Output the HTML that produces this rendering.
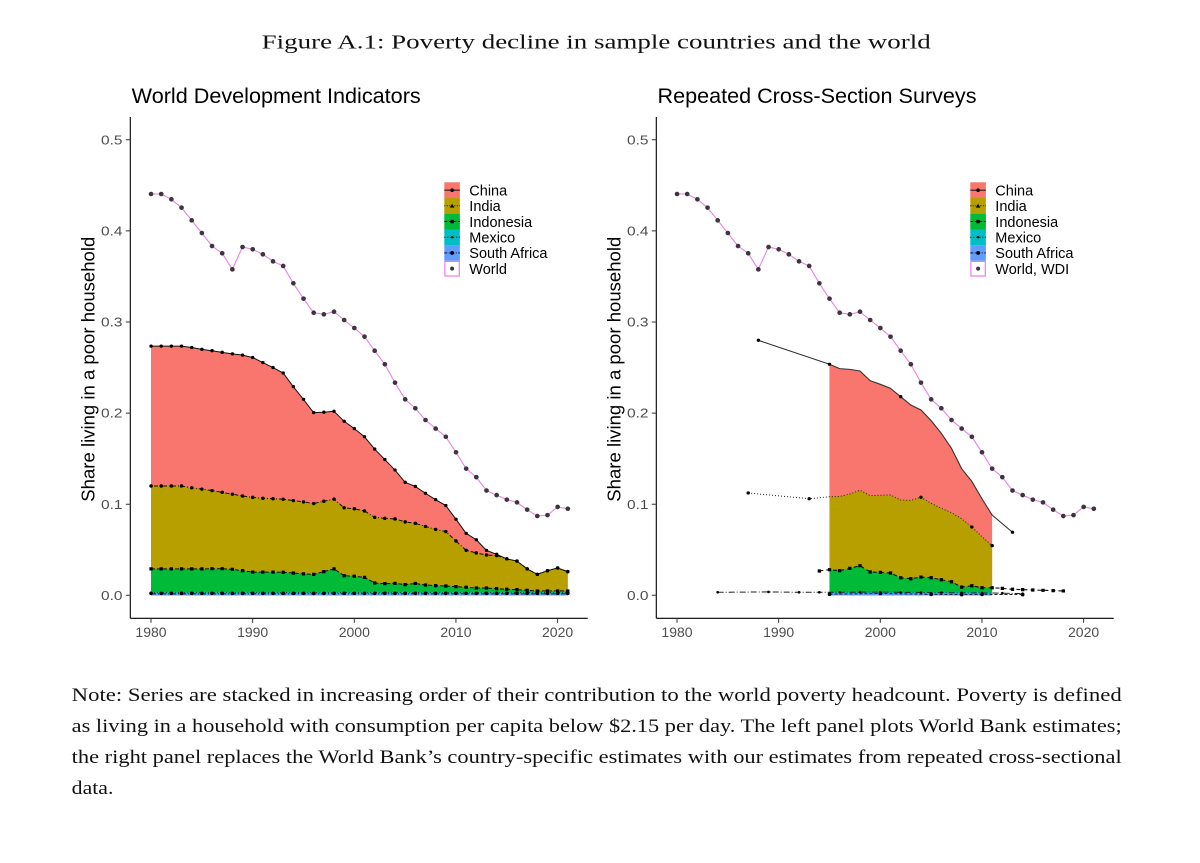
<!DOCTYPE html>
<html>
<head>
<meta charset="utf-8">
<style>
html,body{margin:0;padding:0;background:#fff;}
svg{display:block;}
.ax{stroke:#000;stroke-width:1.1;fill:none;}
.tk{stroke:#333;stroke-width:1;fill:none;}
.tl{font-family:"Liberation Sans",Arial,sans-serif;font-size:13px;fill:#4d4d4d;}
.xl{font-family:"Liberation Sans",Arial,sans-serif;font-size:14px;fill:#4d4d4d;}
.tt{font-family:"Liberation Sans",Arial,sans-serif;font-size:21px;fill:#000;}
.yl{font-family:"Liberation Sans",Arial,sans-serif;font-size:18.5px;fill:#000;}
.lg{font-family:"Liberation Sans",Arial,sans-serif;font-size:14.5px;fill:#000;}
.sr{font-family:"Liberation Serif","Times New Roman",serif;fill:#111;}
.ln{fill:none;vector-effect:non-scaling-stroke;}
.mk{fill:none;vector-effect:non-scaling-stroke;stroke-linecap:round;}
.mks{fill:none;vector-effect:non-scaling-stroke;stroke-linecap:square;}
</style>
</head>
<body>
<svg width="1200" height="863" viewBox="0 0 1200 863" xmlns="http://www.w3.org/2000/svg">
<rect width="1200" height="863" fill="#fff"/>

<!-- Caption -->
<text class="sr" x="261.7" y="48.3" font-size="20.5" textLength="669" lengthAdjust="spacingAndGlyphs">Figure A.1: Poverty decline in sample countries and the world</text>

<!-- ================= LEFT PANEL ================= -->
<text class="tt" x="131.7" y="103" textLength="289" lengthAdjust="spacingAndGlyphs">World Development Indicators</text>
<text class="yl" transform="translate(94.5,369.2) rotate(-90)" text-anchor="middle" textLength="265" lengthAdjust="spacingAndGlyphs">Share living in a poor household</text>

<g transform="translate(151,595.3) scale(10.165,-0.911)">
  <!-- areas -->
  <path fill="#F8766D" d="M0 0L0 273.5L1 273.5L2 273.5L3 273.5L4 272L5 270L6 268.5L7 266.7L8 265L9 263.6L10 261L11 255.5L12 250L13 244L14 229L15 215L16 200.5L17 201L18 202L19 191L20 183L21 174L22 160.5L23 149L24 137.5L25 124L26 119.5L27 112L28 105L29 98.5L30 83.5L31 68L32 61L33 49.3L34 45L35 40L36 37.6L37 29L38 23L39 27L40 30L41 26L41 0Z"/>
  <path fill="#B79F00" d="M0 0L0 120L1 120L2 120L3 120L4 118L5 116.5L6 115L7 113L8 111L9 109L10 107.5L11 106.5L12 106L13 105.5L14 104L15 102.5L16 100.7L17 103.3L18 105.5L19 96L20 95L21 92.6L22 85.6L23 84.5L24 83.8L25 80.6L26 79L27 75.6L28 72.3L29 70L30 59.6L31 49.4L32 46.5L33 44.3L34 43.6L35 40L36 37.6L37 29L38 23L39 27L40 30L41 26L41 0Z"/>
  <path fill="#00BA38" d="M0 0L0 29L1 29L2 29L3 29L4 29L5 29L6 29.2L7 29.2L8 28.5L9 27L10 25.5L11 25.5L12 25.5L13 25.3L14 24.5L15 23.5L16 23L17 26L18 29L19 21.5L20 21L21 19.7L22 13.5L23 12.8L24 13.1L25 11.7L26 13L27 11.3L28 10.6L29 10.2L30 9.5L31 8.8L32 8L33 8L34 7.3L35 6.6L36 6.2L37 5.5L38 4.8L39 4.8L40 4.8L41 4.8L41 0Z"/>
  <path fill="#00BFC4" d="M0 0L0 3.2L41 3.2L41 0Z"/>
  <path fill="#619CFF" d="M0 0L0 1.8L41 1.8L41 0Z"/>

  <!-- World -->
  <path class="ln" stroke="#EE80E6" stroke-width="1.1" d="M0 440.5L1 440.5L2 434.7L3 425.5L4 411.6L5 397.7L6 383.4L7 375.4L8 357.8L9 382.3L10 379.8L11 374.3L12 366.6L13 361.5L14 342.5L15 325.6L16 310.2L17 308.4L18 311.3L19 302.2L20 293.4L21 283.9L22 268.5L23 253.6L24 233.4L25 215.1L26 205.3L27 192.4L28 183L29 174L30 157L31 139L32 129.7L33 115L34 110L35 105L36 102L37 94L38 87L39 88L40 97L41 95"/>
  <path class="mk" stroke="#3d353d" stroke-width="4.6" d="M0 440.5h0.01M1 440.5h0.01M2 434.7h0.01M3 425.5h0.01M4 411.6h0.01M5 397.7h0.01M6 383.4h0.01M7 375.4h0.01M8 357.8h0.01M9 382.3h0.01M10 379.8h0.01M11 374.3h0.01M12 366.6h0.01M13 361.5h0.01M14 342.5h0.01M15 325.6h0.01M16 310.2h0.01M17 308.4h0.01M18 311.3h0.01M19 302.2h0.01M20 293.4h0.01M21 283.9h0.01M22 268.5h0.01M23 253.6h0.01M24 233.4h0.01M25 215.1h0.01M26 205.3h0.01M27 192.4h0.01M28 183h0.01M29 174h0.01M30 157h0.01M31 139h0.01M32 129.7h0.01M33 115h0.01M34 110h0.01M35 105h0.01M36 102h0.01M37 94h0.01M38 87h0.01M39 88h0.01M40 97h0.01M41 95h0.01"/>

  <!-- China line -->
  <path class="ln" stroke="#111" stroke-width="1" d="M0 273.5L1 273.5L2 273.5L3 273.5L4 272L5 270L6 268.5L7 266.7L8 265L9 263.6L10 261L11 255.5L12 250L13 244L14 229L15 215L16 200.5L17 201L18 202L19 191L20 183L21 174L22 160.5L23 149L24 137.5L25 124L26 119.5L27 112L28 105L29 98.5L30 83.5L31 68L32 61L33 49.3L34 45L35 40L36 37.6L37 29L38 23L39 27L40 30L41 26"/>
  <path class="mk" stroke="#000" stroke-width="3.3" d="M0 273.5h0.01M1 273.5h0.01M2 273.5h0.01M3 273.5h0.01M4 272h0.01M5 270h0.01M6 268.5h0.01M7 266.7h0.01M8 265h0.01M9 263.6h0.01M10 261h0.01M11 255.5h0.01M12 250h0.01M13 244h0.01M14 229h0.01M15 215h0.01M16 200.5h0.01M17 201h0.01M18 202h0.01M19 191h0.01M20 183h0.01M21 174h0.01M22 160.5h0.01M23 149h0.01M24 137.5h0.01M25 124h0.01M26 119.5h0.01M27 112h0.01M28 105h0.01M29 98.5h0.01M30 83.5h0.01M31 68h0.01M32 61h0.01M33 49.3h0.01M34 45h0.01M35 40h0.01M36 37.6h0.01M37 29h0.01M38 23h0.01M39 27h0.01M40 30h0.01M41 26h0.01"/>

  <!-- India line -->
  <path class="ln" stroke="#111" stroke-width="1" stroke-dasharray="1 2 4 2" d="M0 120L1 120L2 120L3 120L4 118L5 116.5L6 115L7 113L8 111L9 109L10 107.5L11 106.5L12 106L13 105.5L14 104L15 102.5L16 100.7L17 103.3L18 105.5L19 96L20 95L21 92.6L22 85.6L23 84.5L24 83.8L25 80.6L26 79L27 75.6L28 72.3L29 70L30 59.6L31 49.4L32 46.5L33 44.3L34 43.6L35 40L36 37.6L37 29L38 23L39 27L40 30L41 26"/>
  <path class="mk" stroke="#000" stroke-width="3.4" d="M0 120h0.01M1 120h0.01M2 120h0.01M3 120h0.01M4 118h0.01M5 116.5h0.01M6 115h0.01M7 113h0.01M8 111h0.01M9 109h0.01M10 107.5h0.01M11 106.5h0.01M12 106h0.01M13 105.5h0.01M14 104h0.01M15 102.5h0.01M16 100.7h0.01M17 103.3h0.01M18 105.5h0.01M19 96h0.01M20 95h0.01M21 92.6h0.01M22 85.6h0.01M23 84.5h0.01M24 83.8h0.01M25 80.6h0.01M26 79h0.01M27 75.6h0.01M28 72.3h0.01M29 70h0.01M30 59.6h0.01M31 49.4h0.01M32 46.5h0.01M33 44.3h0.01M34 43.6h0.01M35 40h0.01M36 37.6h0.01M37 29h0.01M38 23h0.01M39 27h0.01M40 30h0.01M41 26h0.01"/>

  <!-- Indonesia line -->
  <path class="ln" stroke="#111" stroke-width="1" stroke-dasharray="4 2" d="M0 29L1 29L2 29L3 29L4 29L5 29L6 29.2L7 29.2L8 28.5L9 27L10 25.5L11 25.5L12 25.5L13 25.3L14 24.5L15 23.5L16 23L17 26L18 29L19 21.5L20 21L21 19.7L22 13.5L23 12.8L24 13.1L25 11.7L26 13L27 11.3L28 10.6L29 10.2L30 9.5L31 8.8L32 8L33 8L34 7.3L35 6.6L36 6.2L37 5.5L38 4.8L39 4.8L40 4.8L41 4.8"/>
  <path class="mks" stroke="#000" stroke-width="3.2" d="M0 29h0.01M1 29h0.01M2 29h0.01M3 29h0.01M4 29h0.01M5 29h0.01M6 29.2h0.01M7 29.2h0.01M8 28.5h0.01M9 27h0.01M10 25.5h0.01M11 25.5h0.01M12 25.5h0.01M13 25.3h0.01M14 24.5h0.01M15 23.5h0.01M16 23h0.01M17 26h0.01M18 29h0.01M19 21.5h0.01M20 21h0.01M21 19.7h0.01M22 13.5h0.01M23 12.8h0.01M24 13.1h0.01M25 11.7h0.01M26 13h0.01M27 11.3h0.01M28 10.6h0.01M29 10.2h0.01M30 9.5h0.01M31 8.8h0.01M32 8h0.01M33 8h0.01M34 7.3h0.01M35 6.6h0.01M36 6.2h0.01M37 5.5h0.01M38 4.8h0.01M39 4.8h0.01M40 4.8h0.01M41 4.8h0.01"/>

  <!-- Mexico / South Africa lines -->
  <path class="ln" stroke="#222" stroke-width="1" stroke-dasharray="1 2" d="M0 2.8L41 2.8"/>
  <path class="ln" stroke="#222" stroke-width="1" stroke-dasharray="5 2 1 2" d="M0 1.6L41 1.6"/>
  <path class="mk" stroke="#000" stroke-width="3.6" d="M0 2.2h0.01M1 2.2h0.01M2 2.2h0.01M3 2.2h0.01M4 2.2h0.01M5 2.2h0.01M6 2.2h0.01M7 2.2h0.01M8 2.2h0.01M9 2.2h0.01M10 2.2h0.01M11 2.2h0.01M12 2.2h0.01M13 2.2h0.01M14 2.2h0.01M15 2.2h0.01M16 2.2h0.01M17 2.2h0.01M18 2.2h0.01M19 2.2h0.01M20 2.2h0.01M21 2.2h0.01M22 2.2h0.01M23 2.2h0.01M24 2.2h0.01M25 2.2h0.01M26 2.2h0.01M27 2.2h0.01M28 2.2h0.01M29 2.2h0.01M30 2.2h0.01M31 2.2h0.01M32 2.2h0.01M33 2.2h0.01M34 2.2h0.01M35 2.2h0.01M36 2.2h0.01M37 2.2h0.01M38 2.2h0.01M39 2.2h0.01M40 2.2h0.01M41 2.2h0.01"/>
</g>

<!-- Left axes -->
<path class="ax" d="M130.3 117V618.3"/>
<path class="ax" d="M130.3 618.3H587.7"/>
<path class="tk" d="M125.8 139.8H130.3M125.8 230.9H130.3M125.8 322H130.3M125.8 413.1H130.3M125.8 504.2H130.3M125.8 595.3H130.3"/>
<path class="tk" d="M151 618.3V622.8M252.65 618.3V622.8M354.3 618.3V622.8M455.95 618.3V622.8M557.6 618.3V622.8"/>
<g class="tl" text-anchor="end">
  <text x="122.5" y="144.4" textLength="21.5" lengthAdjust="spacingAndGlyphs">0.5</text>
  <text x="122.5" y="235.5" textLength="21.5" lengthAdjust="spacingAndGlyphs">0.4</text>
  <text x="122.5" y="326.6" textLength="21.5" lengthAdjust="spacingAndGlyphs">0.3</text>
  <text x="122.5" y="417.7" textLength="21.5" lengthAdjust="spacingAndGlyphs">0.2</text>
  <text x="122.5" y="508.8" textLength="21.5" lengthAdjust="spacingAndGlyphs">0.1</text>
  <text x="122.5" y="599.9" textLength="21.5" lengthAdjust="spacingAndGlyphs">0.0</text>
</g>
<g class="xl" text-anchor="middle">
  <text x="151" y="637">1980</text>
  <text x="252.65" y="637">1990</text>
  <text x="354.3" y="637">2000</text>
  <text x="455.95" y="637">2010</text>
  <text x="557.6" y="637">2020</text>
</g>

<!-- Left legend -->
<g>
  <rect x="444.3" y="182.3" width="15.6" height="15.8" fill="#F8766D"/>
  <rect x="444.3" y="198" width="15.6" height="15.8" fill="#B79F00"/>
  <rect x="444.3" y="213.7" width="15.6" height="15.8" fill="#00BA38"/>
  <rect x="444.3" y="229.4" width="15.6" height="15.8" fill="#00BFC4"/>
  <rect x="444.3" y="245.1" width="15.6" height="15.7" fill="#619CFF"/>
  <rect x="444.9" y="261.4" width="14.4" height="14.6" fill="#fff" stroke="#F07AE8" stroke-width="1.2"/>
  <path d="M444.3 190.15H459.9" stroke="#000" stroke-width="0.9"/>
  <path d="M444.3 205.85H459.9" stroke="#000" stroke-width="0.9" stroke-dasharray="1 1.5"/>
  <path d="M444.3 221.55H459.9" stroke="#000" stroke-width="0.9" stroke-dasharray="3 1.5"/>
  <path d="M444.3 237.25H459.9" stroke="#000" stroke-width="0.9" stroke-dasharray="1 2"/>
  <path d="M444.3 252.95H459.9" stroke="#000" stroke-width="0.9" stroke-dasharray="3 1.5 1 1.5"/>
  <circle cx="452.1" cy="190.15" r="1.8" fill="#000"/>
  <path d="M452.1 203.8L454.3 207.6H449.9Z" fill="#000"/>
  <rect x="450.4" y="219.85" width="3.4" height="3.4" fill="#000"/>
  <circle cx="452.1" cy="237.25" r="1.2" fill="#000"/>
  <circle cx="452.1" cy="252.95" r="1.9" fill="#000"/>
  <circle cx="452.1" cy="268.65" r="2" fill="#3d353d"/>
  <g class="lg">
    <text x="469.3" y="195.4">China</text>
    <text x="469.3" y="211.1">India</text>
    <text x="469.3" y="226.8">Indonesia</text>
    <text x="469.3" y="242.5">Mexico</text>
    <text x="469.3" y="258.2">South Africa</text>
    <text x="469.3" y="273.9">World</text>
  </g>
</g>

<!-- ================= RIGHT PANEL ================= -->
<text class="tt" x="657.5" y="103" textLength="319" lengthAdjust="spacingAndGlyphs">Repeated Cross-Section Surveys</text>
<text class="yl" transform="translate(620.5,369.2) rotate(-90)" text-anchor="middle" textLength="265" lengthAdjust="spacingAndGlyphs">Share living in a poor household</text>

<g transform="translate(677,595.3) scale(10.165,-0.911)">
  <path fill="#F8766D" d="M15 0L15 253.6L16 248.8L17 248L18 246.2L19 235.6L20 231.6L21 227.2L22 218L23 208.9L24 203.4L25 191.7L26 177.8L27 161.4L28 139L29 125.1L30 106L31 88.1L31 0Z"/>
  <path fill="#B79F00" d="M15 0L15 108.2L16 108.5L17 111.2L18 115.3L19 109.4L20 109.8L21 110.2L22 104.6L23 104.2L24 107.6L25 101L26 95.5L27 90.7L28 84.1L29 75L30 64.4L31 54.5L31 0Z"/>
  <path fill="#00BA38" d="M15 0L15 28.1L16 27L17 29.6L18 32.5L19 25.6L20 25.2L21 24.5L22 19.3L23 18.2L24 20L25 19.3L26 17.1L27 14.9L28 9L29 10.5L30 8.3L31 8.3L31 0Z"/>
  <path fill="#00BFC4" d="M15 0L15 3.5L31 3.5L31 0Z"/>
  <path fill="#619CFF" d="M15 0L15 2L31 2L31 0Z"/>

  <!-- World WDI -->
  <path class="ln" stroke="#EE80E6" stroke-width="1.1" d="M0 440.5L1 440.5L2 434.7L3 425.5L4 411.6L5 397.7L6 383.4L7 375.4L8 357.8L9 382.3L10 379.8L11 374.3L12 366.6L13 361.5L14 342.5L15 325.6L16 310.2L17 308.4L18 311.3L19 302.2L20 293.4L21 283.9L22 268.5L23 253.6L24 233.4L25 215.1L26 205.3L27 192.4L28 183L29 174L30 157L31 139L32 129.7L33 115L34 110L35 105L36 102L37 94L38 87L39 88L40 97L41 95"/>
  <path class="mk" stroke="#3d353d" stroke-width="4.6" d="M0 440.5h0.01M1 440.5h0.01M2 434.7h0.01M3 425.5h0.01M4 411.6h0.01M5 397.7h0.01M6 383.4h0.01M7 375.4h0.01M8 357.8h0.01M9 382.3h0.01M10 379.8h0.01M11 374.3h0.01M12 366.6h0.01M13 361.5h0.01M14 342.5h0.01M15 325.6h0.01M16 310.2h0.01M17 308.4h0.01M18 311.3h0.01M19 302.2h0.01M20 293.4h0.01M21 283.9h0.01M22 268.5h0.01M23 253.6h0.01M24 233.4h0.01M25 215.1h0.01M26 205.3h0.01M27 192.4h0.01M28 183h0.01M29 174h0.01M30 157h0.01M31 139h0.01M32 129.7h0.01M33 115h0.01M34 110h0.01M35 105h0.01M36 102h0.01M37 94h0.01M38 87h0.01M39 88h0.01M40 97h0.01M41 95h0.01"/>

  <!-- China -->
  <path class="ln" stroke="#333" stroke-width="1.1" d="M8 279.9L15 253.6L16 248.8L17 248L18 246.2L19 235.6L20 231.6L21 227.2L22 218L23 208.9L24 203.4L25 191.7L26 177.8L27 161.4L28 139L29 125.1L30 106L31 88.1L33 69.2"/>
  <path class="mk" stroke="#000" stroke-width="3.3" d="M8 279.9h0.01M15 253.6h0.01M22 218h0.01M33 69.2h0.01"/>

  <!-- India -->
  <path class="ln" stroke="#222" stroke-width="1" stroke-dasharray="1 2" d="M7 112.3L13 106L15 108.2L16 108.5L17 111.2L18 115.3L19 109.4L20 109.8L21 110.2L22 104.6L23 104.2L24 107.6L25 101L26 95.5L27 90.7L28 84.1L29 75L30 64.4L31 54.5"/>
  <path class="mk" stroke="#000" stroke-width="3.3" d="M7 112.3h0.01M13 106h0.01M24 107.6h0.01M29 75h0.01M31 54.5h0.01"/>

  <!-- Indonesia -->
  <path class="ln" stroke="#111" stroke-width="1.1" stroke-dasharray="4 3" d="M14 26.7L15 28.1L16 27L17 29.6L18 32.5L19 25.6L20 25.2L21 24.5L22 19.3L23 18.2L24 20L25 19.3L26 17.1L27 14.9L28 9L29 10.5L30 8.3L31 8.3L32 7.6L33 6.6L34 6.2L35 5.8L36 5.5L37 5.1L38 4.8"/>
  <path class="mks" stroke="#000" stroke-width="3.2" d="M14 26.7h0.01M15 28.1h0.01M16 27h0.01M17 29.6h0.01M18 32.5h0.01M19 25.6h0.01M20 25.2h0.01M21 24.5h0.01M22 19.3h0.01M23 18.2h0.01M24 20h0.01M25 19.3h0.01M26 17.1h0.01M27 14.9h0.01M28 9h0.01M29 10.5h0.01M30 8.3h0.01M31 8.3h0.01M32 7.6h0.01M33 6.6h0.01M34 6.2h0.01M35 5.8h0.01M36 5.5h0.01M37 5.1h0.01M38 4.8h0.01"/>

  <!-- Mexico -->
  <path class="ln" stroke="#222" stroke-width="1" stroke-dasharray="6 2 1 2" d="M4 3.3L9 3.7L12 3.3L14 3.3L15 3.3L20 3.5L25 3L31 2.5L34 1.8"/>
  <path class="mk" stroke="#000" stroke-width="2.6" d="M4 3.3h0.01M9 3.7h0.01M12 3.3h0.01M14 3.3h0.01M16 3.3h0.01M18 3.5h0.01M20 3.5h0.01M22 3.3h0.01M24 3.1h0.01M26 3h0.01M28 2.8h0.01M30 2.6h0.01M32 2.3h0.01M34 1.8h0.01"/>

  <!-- South Africa -->
  <path class="ln" stroke="#222" stroke-width="1" stroke-dasharray="3 2" d="M15 1.2L20 2L25 1L28 0.8L30 1L34 0.8"/>
  <path class="mk" stroke="#000" stroke-width="3.6" d="M15 1.2h0.01M20 2h0.01M25 1h0.01M28 0.8h0.01M30 1h0.01M34 0.8h0.01"/>
</g>

<!-- Right axes -->
<path class="ax" d="M656.3 117V618.3"/>
<path class="ax" d="M656.3 618.3H1113.7"/>
<path class="tk" d="M651.8 139.8H656.3M651.8 230.9H656.3M651.8 322H656.3M651.8 413.1H656.3M651.8 504.2H656.3M651.8 595.3H656.3"/>
<path class="tk" d="M677 618.3V622.8M778.65 618.3V622.8M880.3 618.3V622.8M981.95 618.3V622.8M1083.6 618.3V622.8"/>
<g class="tl" text-anchor="end">
  <text x="648.5" y="144.4" textLength="21.5" lengthAdjust="spacingAndGlyphs">0.5</text>
  <text x="648.5" y="235.5" textLength="21.5" lengthAdjust="spacingAndGlyphs">0.4</text>
  <text x="648.5" y="326.6" textLength="21.5" lengthAdjust="spacingAndGlyphs">0.3</text>
  <text x="648.5" y="417.7" textLength="21.5" lengthAdjust="spacingAndGlyphs">0.2</text>
  <text x="648.5" y="508.8" textLength="21.5" lengthAdjust="spacingAndGlyphs">0.1</text>
  <text x="648.5" y="599.9" textLength="21.5" lengthAdjust="spacingAndGlyphs">0.0</text>
</g>
<g class="xl" text-anchor="middle">
  <text x="677" y="637">1980</text>
  <text x="778.65" y="637">1990</text>
  <text x="880.3" y="637">2000</text>
  <text x="981.95" y="637">2010</text>
  <text x="1083.6" y="637">2020</text>
</g>

<!-- Right legend -->
<g>
  <rect x="970.3" y="182.3" width="15.6" height="15.8" fill="#F8766D"/>
  <rect x="970.3" y="198" width="15.6" height="15.8" fill="#B79F00"/>
  <rect x="970.3" y="213.7" width="15.6" height="15.8" fill="#00BA38"/>
  <rect x="970.3" y="229.4" width="15.6" height="15.8" fill="#00BFC4"/>
  <rect x="970.3" y="245.1" width="15.6" height="15.7" fill="#619CFF"/>
  <rect x="970.9" y="261.4" width="14.4" height="14.6" fill="#fff" stroke="#F07AE8" stroke-width="1.2"/>
  <path d="M970.3 190.15H985.9" stroke="#000" stroke-width="0.9"/>
  <path d="M970.3 205.85H985.9" stroke="#000" stroke-width="0.9" stroke-dasharray="1 1.5"/>
  <path d="M970.3 221.55H985.9" stroke="#000" stroke-width="0.9" stroke-dasharray="3 1.5"/>
  <path d="M970.3 237.25H985.9" stroke="#000" stroke-width="0.9" stroke-dasharray="1 2"/>
  <path d="M970.3 252.95H985.9" stroke="#000" stroke-width="0.9" stroke-dasharray="3 1.5 1 1.5"/>
  <circle cx="978.1" cy="190.15" r="1.8" fill="#000"/>
  <path d="M978.1 203.8L980.3 207.6H975.9Z" fill="#000"/>
  <rect x="976.4" y="219.85" width="3.4" height="3.4" fill="#000"/>
  <circle cx="978.1" cy="237.25" r="1.2" fill="#000"/>
  <circle cx="978.1" cy="252.95" r="1.9" fill="#000"/>
  <circle cx="978.1" cy="268.65" r="2" fill="#3d353d"/>
  <g class="lg">
    <text x="995.3" y="195.4">China</text>
    <text x="995.3" y="211.1">India</text>
    <text x="995.3" y="226.8">Indonesia</text>
    <text x="995.3" y="242.5">Mexico</text>
    <text x="995.3" y="258.2">South Africa</text>
    <text x="995.3" y="273.9">World, WDI</text>
  </g>
</g>

<!-- Note -->
<g class="sr" font-size="18.5">
  <text x="71.7" y="701" textLength="1050" lengthAdjust="spacingAndGlyphs">Note: Series are stacked in increasing order of their contribution to the world poverty headcount. Poverty is defined</text>
  <text x="71.7" y="732" textLength="1050" lengthAdjust="spacingAndGlyphs">as living in a household with consumption per capita below $2.15 per day. The left panel plots World Bank estimates;</text>
  <text x="71.7" y="763" textLength="1050" lengthAdjust="spacingAndGlyphs">the right panel replaces the World Bank’s country-specific estimates with our estimates from repeated cross-sectional</text>
  <text x="71.7" y="794" textLength="41.7" lengthAdjust="spacingAndGlyphs">data.</text>
</g>
</svg>
</body>
</html>
